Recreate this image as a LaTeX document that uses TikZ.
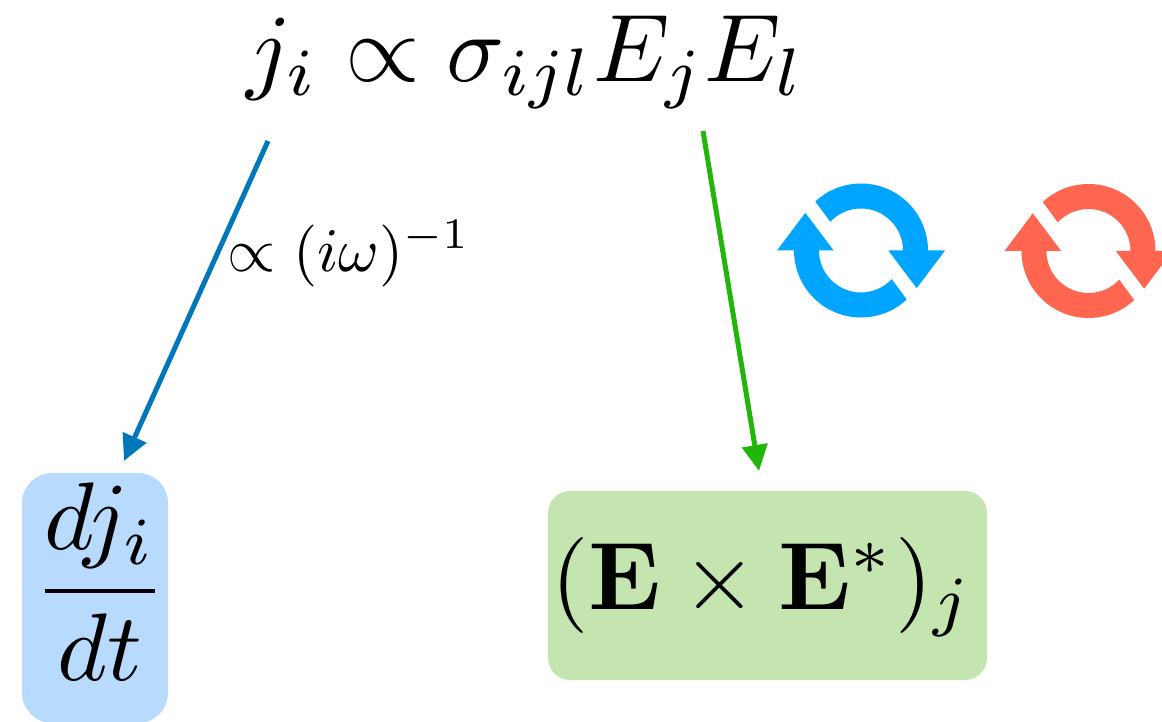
\documentclass[tikz,border=0pt]{standalone}
\usetikzlibrary{arrows.meta}
\usepackage{amsmath, amssymb}
\definecolor{fluxblue}{RGB}{0, 119, 187}
\definecolor{fluxgreen}{RGB}{34, 181, 10}
\definecolor{boxblue}{RGB}{184, 218, 252}
\definecolor{boxgreen}{RGB}{196, 229, 176}
\definecolor{cycleblue}{RGB}{0, 165, 255}
\definecolor{cyclered}{RGB}{255, 102, 80}

\begin{document}
\begin{tikzpicture}[
  x=1pt, y=1pt,
  formula/.style={inner sep=0pt, scale=9.6},
  smallformula/.style={inner sep=0pt, scale=6.2},
  fracbox/.style={rectangle, fill=boxblue, rounded corners=30pt,
              minimum width=146pt, minimum height=250pt, inner sep=0pt},
  crossbox/.style={rectangle, fill=boxgreen, rounded corners=22pt,
              minimum width=439pt, minimum height=189pt, inner sep=0pt},
  bluearrow/.style={-{Triangle[length=26pt,width=25pt]}, line width=5pt, draw=fluxblue},
  greenarrow/.style={-{Triangle[length=26pt,width=25pt]}, line width=5pt, draw=fluxgreen},
  cycle/.pic={
    \foreach \rot in {0,180} {
      \fill[rotate=\rot, pic actions] (133:67pt) arc[start angle=133, end angle=0, radius=67pt]
        -- (84pt,0) -- (55.7pt,-37.7pt) -- (27.3pt,0) -- (42pt,0)
        arc[start angle=0, end angle=137, radius=42pt] -- cycle;
    }
  },
]
  \clip (0,0) rectangle (1162,721);

  % Top: conductivity relation
  \node[formula] (current) at (526,659) {$j_i \propto \sigma_{ijl} E_j E_l$};

  % Bottom: boxes
  \node[fracbox] (dtbox) at (95,123) {};
  \node[formula] (dtfrac) at (100,139) {$\dfrac{dj_i}{dt}$};
  \node[crossbox] (crossprod) at (767.5,135.5) {};
  \node[formula] (crosstext) at (762,134) {$(\mathbf{E}\times\mathbf{E}^{*})_j$};

  % Arrows
  \coordinate (bluestart) at (268,580);
  \coordinate (bluetip) at (124,260);
  \coordinate (greenstart) at (703,590);
  \coordinate (greentip) at (759,250);
  \draw[bluearrow] (bluestart) -- (bluetip);
  \draw[greenarrow] (greenstart) -- (greentip);
  \node[smallformula] (freqlabel) at (349,467) {$\propto (i\omega)^{-1}$};

  % Rotation icons
  \pic[fill=cycleblue] (bluecycle) at (861,470.5) {cycle};
  \pic[fill=cyclered] (redcycle) at (1088.5,470) {cycle};
\end{tikzpicture}
\end{document}
